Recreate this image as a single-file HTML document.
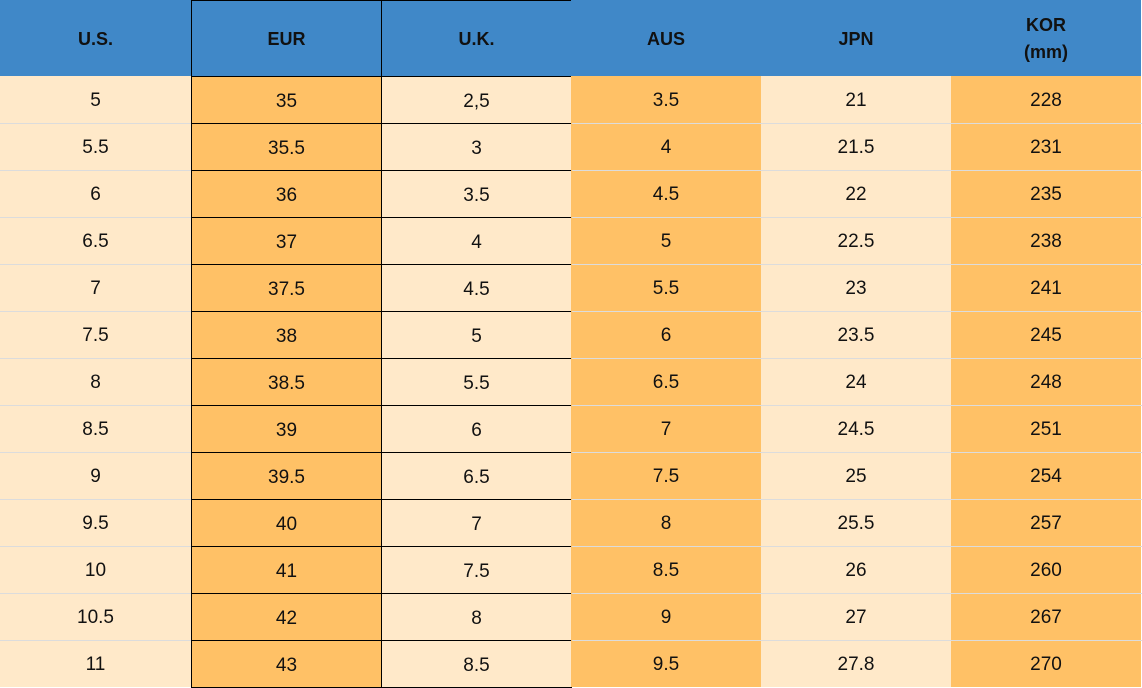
<!DOCTYPE html>
<html><head><style>
body{margin:0;width:1142px;height:688px;background:#fff;font-family:"Liberation Sans",Arial,sans-serif;position:relative;overflow:hidden}
.c{position:absolute;display:flex;align-items:center;justify-content:center;text-align:center;font-size:19px;color:#111;box-sizing:border-box;padding-top:3px}
.h{background:#4088c8;font-weight:bold;font-size:18px;color:#111;line-height:27px;padding-top:2px}
.l{background:#ffe9c9}.d{background:#ffc166}
.hl{position:absolute;height:1px;background:#dcdcdc}
.b{border:1px solid #000}
</style></head><body>
<div id="t"></div>
<script>
var cols=[0,191,381,571,761,951,1141];
var heads=["U.S.","EUR","U.K.","AUS","JPN","KOR<br>(mm)"];
var data=[["5","35","2,5","3.5","21","228"],["5.5","35.5","3","4","21.5","231"],["6","36","3.5","4.5","22","235"],["6.5","37","4","5","22.5","238"],["7","37.5","4.5","5.5","23","241"],["7.5","38","5","6","23.5","245"],["8","38.5","5.5","6.5","24","248"],["8.5","39","6","7","24.5","251"],["9","39.5","6.5","7.5","25","254"],["9.5","40","7","8","25.5","257"],["10","41","7.5","8.5","26","260"],["10.5","42","8","9","27","267"],["11","43","8.5","9.5","27.8","270"]];
var cls=["l","d","l","d","l","d"];
var h="";
for(var j=0;j<6;j++){var x=cols[j],w=cols[j+1]-x;
var bb=(j==1||j==2)?" b":"";
h+='<div class="c h'+bb+'" style="left:'+x+'px;top:0;width:'+(w+(bb?1:0))+'px;height:'+(bb?77:76)+'px">'+heads[j]+'</div>';}
for(var i=0;i<13;i++){var y=76+i*47;
for(var j=0;j<6;j++){var x=cols[j],w=cols[j+1]-x;var bb=(j==1||j==2)?" b":"";
h+='<div class="c '+cls[j]+bb+'" style="left:'+x+'px;top:'+y+'px;width:'+(w+(bb?1:0))+'px;height:'+(bb?48:47)+'px">'+data[i][j]+'</div>';}
if(i>0){h+='<div class="hl" style="left:0;top:'+y+'px;width:191px"></div><div class="hl" style="left:572px;top:'+y+'px;width:570px"></div>';}}
document.getElementById("t").innerHTML=h;
</script>
</body></html>
